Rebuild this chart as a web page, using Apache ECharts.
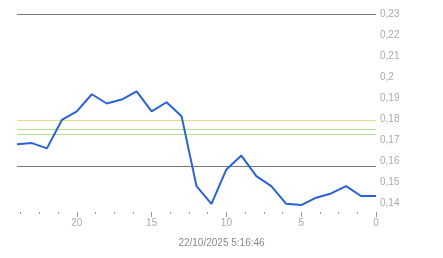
<!DOCTYPE html>
<html><head><meta charset="utf-8">
<script src="https://cdn.jsdelivr.net/npm/echarts@6/dist/echarts.min.js"></script>
<style>html,body{margin:0;padding:0;background:#fff}#c{width:443px;height:258px}</style>
</head><body><div id="c"></div>
<script>
const xValues = [24,23,22,21,20,19,18,17,16,15,14,13,12,11,10,9,8,7,6,5,4,3,2,1,0];
const yValues = [0.1682,0.1687,0.1662,0.1797,0.1838,0.1919,0.1875,0.1894,0.1933,0.1838,0.1881,0.1815,0.1483,0.1399,0.1562,0.1628,0.1530,0.1483,0.1399,0.1393,0.1428,0.1448,0.1483,0.1436,0.1436];
const xTicks = [0,5,10,15,20];
const yTicks = [0.14,0.15,0.16,0.17,0.18,0.19,0.2,0.21,0.22,0.23];
const darkLines = [0.23,0.1575];
const yellowLines = [0.1794];
const greenLines = [0.1755,0.1731];
const timestamp = '22/10/2025 5:16:46';

const chart = echarts.init(document.getElementById('c'), null, {renderer:'canvas'});
const fmt = v => { let s = (Math.round(v*100)/100).toFixed(2); if (s.endsWith('0')) s = s.slice(0,-1); return s.replace('.', ','); };
const ml = (vals, color) => vals.map(v => ({yAxis: v, lineStyle: {color: color, width: 1, type: 'solid'}}));
chart.setOption({
  animation: false,
  title: {text: timestamp, left: 'center', top: 233, textStyle: {fontSize: 10, fontWeight: 'normal', color: '#888', fontFamily: 'Liberation Sans, Arial'}},
  grid: {left: 17, right: 67, top: 14, height: 198},
  xAxis: {
    type: 'value', inverse: true, min: 0, max: 24, interval: 5,
    axisLine: {show: false},
    axisTick: {show: true, length: 5, customValues: xTicks, lineStyle: {color: '#999'}},
    minorTick: {show: true, splitNumber: 4, length: 2, lineStyle: {color: '#999'}},
    splitLine: {show: false},
    axisLabel: {customValues: xTicks, color: '#aaa', fontSize: 10, margin: 6, fontFamily: 'Liberation Sans, Arial'}
  },
  yAxis: {
    type: 'value', position: 'right', min: 0.136, max: 0.23,
    axisLine: {show: false}, axisTick: {show: false}, splitLine: {show: false},
    axisLabel: {customValues: yTicks, formatter: fmt, color: '#aaa', fontSize: 10, margin: 4, padding: [0,0,5,0], fontFamily: 'Liberation Sans, Arial'}
  },
  series: [{
    type: 'line', data: xValues.map((x, i) => [x, yValues[i]]),
    symbol: 'none', lineStyle: {color: '#2a62d6', width: 2},
    markLine: {
      silent: true, precision: 5, symbol: ['none','none'], label: {show: false},
      data: [].concat(ml(darkLines, '#777'), ml(yellowLines, '#e6d98c'), ml(greenLines, '#b5de9c'))
    },
    z: 5
  }]
});
</script></body></html>
